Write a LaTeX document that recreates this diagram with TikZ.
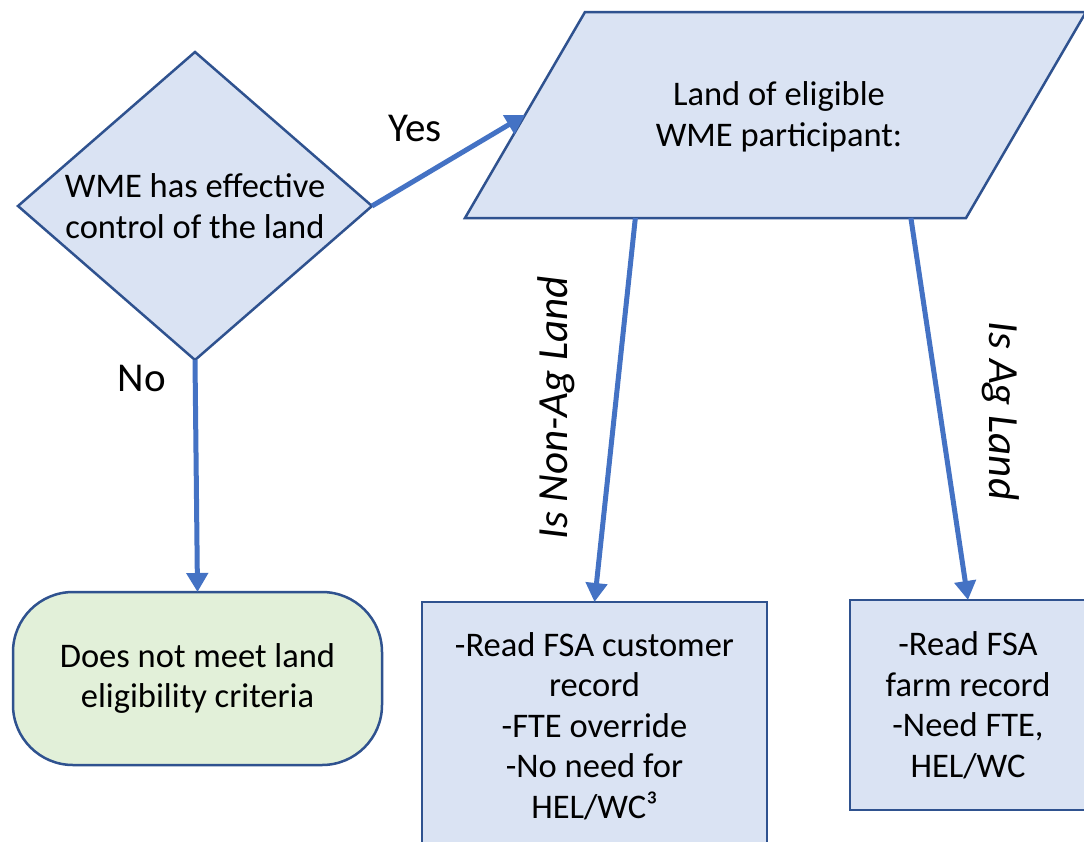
\documentclass[tikz,border=0pt]{standalone}
\usepackage{fontspec}
\setmainfont{Carlito}
\usetikzlibrary{shapes.geometric,arrows.meta,calc}
\definecolor{fillblue}{HTML}{DAE3F3}
\definecolor{fillgreen}{HTML}{E2F0D9}
\definecolor{edgeblue}{HTML}{2F528F}
\definecolor{arrowblue}{HTML}{4472C4}
\begin{document}
\begin{tikzpicture}[x=1pt,y=-1pt,
  outline/.style={draw=edgeblue, line width=2.5pt, fill=fillblue},
  txt/.style={align=center, inner sep=0pt, outer sep=0pt, font=\fontsize{34.5}{40.5}\selectfont},
  shp/.style={outline, txt},
  flow/.style={draw=arrowblue, line width=5pt, -{Triangle[width=21pt,length=19pt]}},
  lbl/.style={font=\fontsize{41}{46}\selectfont},
  rlbl/.style={font=\fontsize{43}{48}\selectfont\itshape}]
\useasboundingbox (0,0) rectangle (1084,841);
\fill[white] (0,0) rectangle (1084,841);

\node[shp, diamond, aspect=1.15, minimum width=354pt, minimum height=308pt] (dec) at (195,206)
  {WME has effective\\control of the land};

% parallelogram (input/output shape)
\coordinate (pBL) at (465,218);
\coordinate (pTL) at (585,12);
\coordinate (pTR) at (1086,12);
\coordinate (pBR) at (966,218);
\draw[outline, line join=miter] (pBL) -- (pTL) -- (pTR) -- (pBR) -- cycle;
\node[txt] (land) at (779,117) {Land of eligible\\WME participant:};
\coordinate (landleft) at ($(pBL)!0.5!(pTL)$);
\coordinate (nonagstart) at ($(pBL)!0.34!(pBR)$);
\coordinate (agstart) at ($(pBL)!0.89!(pBR)$);

\node[shp, rectangle, rounded corners=60pt, fill=fillgreen, minimum width=369pt,
  minimum height=173pt] (fail) at (197.5,678.5) {Does not meet land\\eligibility criteria};

\node[shp, rectangle, minimum width=345pt, minimum height=248pt] (nonag) at (594.5,726)
  {-Read FSA customer\\record\\-FTE override\\-No need for\\HEL/WC³};

\node[shp, rectangle, minimum width=236pt, minimum height=210pt] (ag) at (968,705)
  {-Read FSA\\farm record\\-Need FTE,\\HEL/WC};

\draw[flow] (dec.east) -- (landleft);
\draw[flow] (dec.south) -- (fail.north);
\draw[flow] (nonagstart) -- (nonag.north);
\draw[flow] (agstart) -- (ag.north);

\node[lbl] (yes) at (415,128) {Yes};
\node[lbl] (no) at (142,378) {No};
\node[rlbl, rotate=90] (nonaglbl) at (556,408) {Is Non-Ag Land};
\node[rlbl, rotate=-90] (aglbl) at (1001,411) {Is Ag Land};
\end{tikzpicture}
\end{document}
